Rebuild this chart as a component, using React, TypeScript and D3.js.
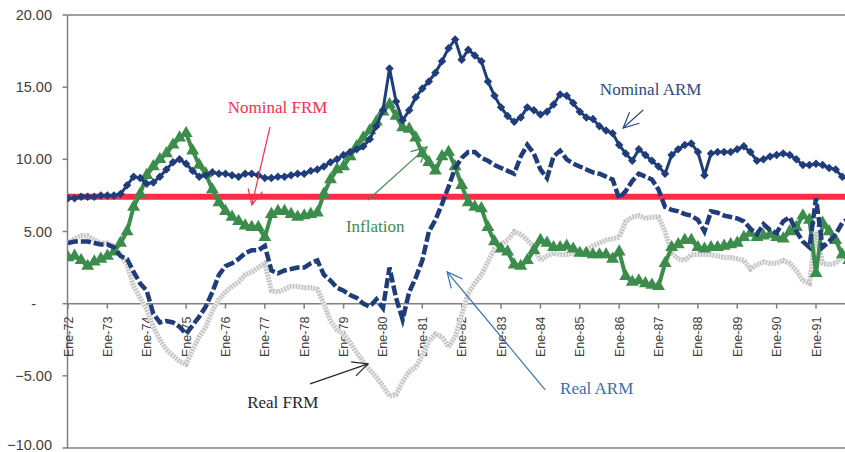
import React from 'react';
import * as d3 from 'd3';

// x-axis categories (one tick per January)
const yearLabels = [
  'Ene-72', 'Ene-73', 'Ene-74', 'Ene-75', 'Ene-76', 'Ene-77', 'Ene-78', 'Ene-79', 'Ene-80', 'Ene-81',
  'Ene-82', 'Ene-83', 'Ene-84', 'Ene-85', 'Ene-86', 'Ene-87', 'Ene-88', 'Ene-89', 'Ene-90', 'Ene-91',
];
const firstYear = 1972;
const yTicks = [20, 15, 10, 5, 0, -5, -10];

// bimonthly readings (Jan, Mar, May, Jul, Sep, Nov) from Jan-72
const nominalARM = [
  7.3, 7.3, 7.4, 7.4, 7.4, 7.5,
  7.5, 7.5, 7.6, 8.2, 8.8, 8.7,
  8.3, 8.4, 8.8, 9.3, 9.8, 10.0,
  9.7, 9.2, 8.8, 8.9, 9.1, 9.0,
  9.0, 8.9, 8.8, 9.0, 9.0, 8.9,
  8.7, 8.7, 8.8, 8.8, 8.9, 9.0,
  9.0, 9.2, 9.3, 9.5, 9.8, 10.0,
  10.3, 10.5, 10.7, 10.9, 11.4, 12.3,
  13.4, 16.3, 14.0, 12.7, 13.4, 14.3,
  14.9, 15.4, 16.0, 16.8, 17.7, 18.3,
  16.9, 17.6, 17.2, 16.8, 15.4, 14.4,
  13.6, 13.0, 12.6, 12.9, 13.6, 13.4,
  13.1, 13.3, 13.8, 14.5, 14.4, 13.9,
  13.3, 12.9, 12.8, 12.3, 12.0, 11.8,
  11.0, 10.4, 9.9, 10.7, 10.3, 9.9,
  9.5, 9.0, 10.3, 10.7, 11.0, 11.1,
  10.5, 8.9, 10.4, 10.5, 10.5, 10.5,
  10.7, 10.9, 10.5, 9.9, 10.0, 10.2,
  10.3, 10.4, 10.3, 10.0, 9.6, 9.6,
  9.7, 9.6, 9.4, 9.3, 8.8, 8.6,
];

const inflation = [
  3.2, 3.3, 3.0, 2.6, 2.9, 3.1,
  3.3, 3.6, 4.2, 5.0, 6.7, 7.6,
  8.9, 9.5, 10.0, 10.4, 11.0, 11.5,
  11.8, 10.6, 9.6, 9.0, 7.9, 7.0,
  6.4, 6.0, 5.7, 5.4, 5.3, 5.3,
  4.6, 6.2, 6.4, 6.4, 6.2, 6.0,
  6.1, 6.2, 6.3, 7.6, 8.6, 9.3,
  9.5, 10.2, 10.9, 11.5, 12.0, 12.6,
  13.3, 13.8, 13.0, 12.2, 12.1, 11.5,
  10.4, 9.8, 9.2, 10.2, 10.5, 9.5,
  8.2, 7.0, 6.7, 6.6, 5.3, 4.3,
  3.8, 3.6, 2.7, 2.6, 3.0, 3.7,
  4.4, 4.2, 3.9, 3.9, 4.0, 3.8,
  3.5, 3.5, 3.4, 3.4, 3.4, 3.1,
  3.6, 1.9, 1.5, 1.6, 1.4, 1.3,
  1.2, 2.8, 3.9, 4.1, 4.4, 4.4,
  3.9, 3.8, 3.9, 3.9, 4.0, 4.1,
  4.2, 4.6, 4.9, 4.6, 4.7, 4.8,
  4.6, 4.5, 5.0, 5.3, 6.1, 5.8,
  2.1, 5.6, 5.0, 4.4, 3.4, 3.0,
];

const realARM = [
  4.2, 4.3, 4.3, 4.3, 4.2, 4.1,
  4.1, 3.9, 3.3, 3.1, 2.2, 1.4,
  0.9, -0.7, -1.3, -1.2, -1.3, -1.6,
  -2.1, -1.5, -0.9, -0.2, 0.8, 2.0,
  2.6, 2.8, 3.1, 3.5, 3.7, 3.7,
  4.0, 2.3, 2.1, 2.3, 2.4, 2.5,
  2.5, 2.8, 3.0, 2.0, 1.6, 1.1,
  0.9, 0.6, 0.4, 0.0, -0.2, 0.3,
  -0.3, 2.5, 0.4, -1.1, 0.8, 1.8,
  3.0, 5.0, 5.8, 6.9, 8.1, 9.4,
  10.1, 10.5, 10.5, 10.1, 9.9, 9.6,
  9.4, 9.2, 9.0, 10.2, 11.0, 10.4,
  9.3, 8.7, 10.2, 10.6, 10.0, 9.7,
  9.5, 9.3, 9.1, 9.0, 8.8, 8.6,
  7.3, 7.8, 8.5, 9.0, 8.8, 8.6,
  7.9, 6.7, 6.5, 6.4, 6.2, 6.1,
  5.8, 5.0, 6.4, 6.3, 6.1, 6.0,
  5.9, 5.7, 5.2, 4.8, 5.5, 5.1,
  4.9, 5.7, 6.0, 5.0, 4.3, 3.9,
  7.3, 3.9, 4.3, 4.8, 5.6, 5.9,
];

const realFRM = [
  4.2, 4.5, 4.7, 4.7, 4.4, 4.2,
  4.2, 4.0, 3.4, 2.7, 1.2, 0.4,
  -0.4, -1.6, -2.5, -3.2, -3.6, -4.0,
  -4.2, -3.2, -2.3, -1.6, -0.5, 0.3,
  0.8, 1.2, 1.5, 2.0, 2.2, 2.5,
  2.8, 0.9, 0.8, 1.0, 1.2, 1.2,
  1.1, 1.1, 1.0, 0.0, -1.2, -1.8,
  -2.1, -2.7, -3.4, -4.0, -4.6, -5.1,
  -5.7, -6.4, -6.3, -5.4, -4.7, -4.4,
  -3.6, -2.6, -2.1, -2.3, -3.0, -2.3,
  -0.8, 0.7, 1.4, 2.0, 2.9, 3.8,
  4.1, 4.4, 5.0, 4.8, 4.4, 3.9,
  3.0, 3.3, 3.5, 3.4, 3.4, 3.5,
  3.6, 3.7, 4.0, 4.2, 4.4, 4.5,
  4.6, 5.7, 6.0, 6.1, 5.9, 6.0,
  6.0, 5.0, 3.5, 3.1, 3.0, 3.4,
  3.4, 3.4, 3.4, 3.3, 3.2, 3.2,
  3.1, 3.0, 2.4, 2.7, 2.9, 2.8,
  2.8, 3.0, 2.8, 2.3, 1.6, 1.4,
  5.0, 2.8, 2.7, 2.8, 3.2, 3.7,
];

const nominalFRM = 7.4;

// callouts, placed in data units: [year, value]
const notes = [
  { text: 'Nominal FRM', color: '#f5304a', at: [1976.06, 13.2], tail: [1977.13, 12.24], tip: [1976.67, 6.84] },
  { text: 'Nominal ARM', color: '#2a4a80', at: [1985.51, 14.45], tail: [1986.61, 13.42], tip: [1986.1, 12.17] },
  { text: 'Inflation', color: '#3f8d50', at: [1979.06, 5.0], tail: [1979.62, 7.18], tip: [1981.12, 10.86] },
  { text: 'Real ARM', color: '#3470b5', at: [1984.5, -6.25], tail: [1984.12, -5.97], tip: [1981.63, 2.2] },
  { text: 'Real FRM', color: '#262626', at: [1976.55, -7.22], tail: [1978.15, -5.56], tip: [1979.62, -4.17] },
];

const NAVY = '#1f3d7a';
const GREEN = '#3c8c4c';
const RED = '#fb2d45';
const AXIS = '#808080';
const SANS = '"Liberation Sans", Arial, sans-serif';
const SERIF = '"Liberation Serif", "Times New Roman", serif';

export default function App() {
  const width = 845;
  const height = 452;
  const left = 67.5;
  const right = 845;

  const x = d3.scaleLinear().domain([firstYear, firstYear + 19]).range([68, 816]);
  const y = d3.scaleLinear().domain([-10, 20]).range([448, 15]);

  const dates = nominalARM.map((_, i) => firstYear + i / 6);
  const path = (vals: number[]) =>
    d3.line<number>().x((_, i) => x(dates[i])).y(v => y(v))(vals) || '';

  const diamond = d3.symbol(d3.symbolSquare, 36)() || '';
  const triangle = d3.symbol(d3.symbolTriangle, 72)() || '';

  const arrowHead = (tail: number[], tip: number[]) => {
    const tx = x(tip[0]), ty = y(tip[1]);
    const a = Math.atan2(y(tail[1]) - ty, x(tail[0]) - tx);
    const len = 17, spread = 0.45;
    const p1 = [tx + len * Math.cos(a + spread), ty + len * Math.sin(a + spread)];
    const p2 = [tx + len * Math.cos(a - spread), ty + len * Math.sin(a - spread)];
    return `M${p1[0]},${p1[1]}L${tx},${ty}L${p2[0]},${p2[1]}`;
  };

  return (
    <svg width={width} height={height} style={{ position: 'absolute', left: 0, top: 0, background: '#fff' }}>
      <defs>
        <clipPath id="plot">
          <rect x={left} y={y(20)} width={right - left} height={y(-10) - y(20)} />
        </clipPath>
      </defs>

      {/* frame */}
      <line x1={left} x2={right} y1={y(20)} y2={y(20)} stroke={AXIS} strokeWidth={1.5} />
      <line x1={left} x2={right} y1={y(-10)} y2={y(-10)} stroke={AXIS} strokeWidth={1.5} />
      <line x1={left} x2={left} y1={y(20)} y2={y(-10)} stroke={AXIS} strokeWidth={1.5} />

      {/* y axis */}
      {yTicks.map(t => (
        <g key={t}>
          <line x1={left - 5} x2={left} y1={y(t)} y2={y(t)} stroke={AXIS} strokeWidth={1.5} />
          <text
            x={t === 0 ? 36 : 52}
            y={y(t) - (t === -10 ? 3 : 0)}
            dy="0.35em"
            textAnchor="end"
            fontFamily={SANS}
            fontSize={14.5}
            fill="#404040"
          >
            {t === 0 ? '-' : d3.format('.2f')(t)}
          </text>
        </g>
      ))}

      {/* x axis at zero */}
      <line x1={left} x2={right} y1={y(0)} y2={y(0)} stroke={AXIS} strokeWidth={1.5} />
      {yearLabels.map((lab, k) => {
        const px = x(firstYear + k);
        return (
          <g key={lab}>
            <line x1={px} x2={px} y1={y(0)} y2={y(0) + 5} stroke={AXIS} strokeWidth={1.5} />
            <text
              transform={`translate(${px + 4.5},${y(0) + 13}) rotate(-90)`}
              textAnchor="end"
              fontFamily={SANS}
              fontSize={12.5}
              fill="#404040"
            >
              {lab}
            </text>
          </g>
        );
      })}

      <g clipPath="url(#plot)">
        {/* Real FRM: light grey dotted band */}
        <path d={path(realFRM)} fill="none" stroke="#eeeeee" strokeWidth={5} strokeLinejoin="round" />
        <path d={path(realFRM)} fill="none" stroke="#c2c2c2" strokeWidth={5} strokeDasharray="1.5 1.5" />

        {/* Nominal FRM */}
        <line x1={left} x2={right} y1={y(nominalFRM)} y2={y(nominalFRM)} stroke={RED} strokeWidth={6} />

        {/* Inflation */}
        <path d={path(inflation)} fill="none" stroke={GREEN} strokeWidth={4} strokeLinejoin="round" />
        {inflation.map((v, i) => (
          <path key={i} d={triangle} transform={`translate(${x(dates[i])},${y(v)})`} fill={GREEN} />
        ))}

        {/* Real ARM */}
        <path d={path(realARM)} fill="none" stroke={NAVY} strokeWidth={4.5} strokeDasharray="10 3" />

        {/* Nominal ARM */}
        <path d={path(nominalARM)} fill="none" stroke={NAVY} strokeWidth={3} strokeLinejoin="round" />
        {nominalARM.map((v, i) => (
          <path key={i} d={diamond} transform={`translate(${x(dates[i])},${y(v)}) rotate(45)`} fill={NAVY} />
        ))}
      </g>

      {/* callouts */}
      {notes.map(n => (
        <g key={n.text}>
          <line
            x1={x(n.tail[0])} y1={y(n.tail[1])}
            x2={x(n.tip[0])} y2={y(n.tip[1])}
            stroke={n.color} strokeWidth={1.2}
          />
          <path d={arrowHead(n.tail, n.tip)} fill="none" stroke={n.color} strokeWidth={1.2} />
          <text x={x(n.at[0])} y={y(n.at[1])} fontFamily={SERIF} fontSize={17} fill={n.color}>
            {n.text}
          </text>
        </g>
      ))}
    </svg>
  );
}
